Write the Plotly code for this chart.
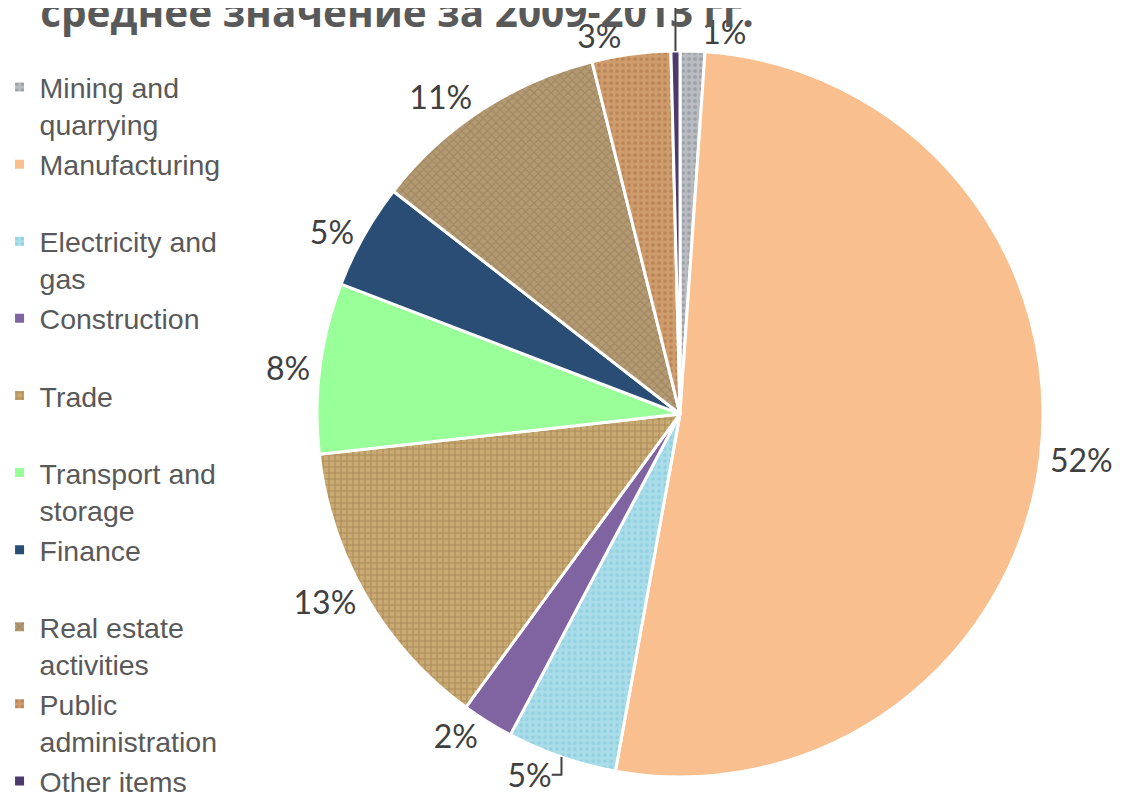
import plotly.graph_objects as go

categories = ["Mining and<br>quarrying", "Manufacturing<br> ", "Electricity and<br>gas",
              "Construction<br> ", "Trade<br> ", "Transport and<br>storage", "Finance<br> ",
              "Real estate<br>activities", "Public<br>administration", "Other items"]
values = [1.1, 51.8, 4.9, 2.3, 13.2, 7.6, 4.7, 10.6, 3.5, 0.4]

bg_colors = ["#b8bcc1", "#f9bf8f", "#a9dde9", "#8064a2", "#c9aa72",
             "#99ff99", "#2a4d76", "#b49a72", "#cf9c6c", "#4b3a6b"]
fg_colors = ["#7c838a", "#f9bf8f", "#7fc3d6", "#8064a2", "#8a6a3c",
             "#99ff99", "#2a4d76", "#86704e", "#a66c42", "#4b3a6b"]
shapes = [".", "", ".", "", "+", "", "", "x", ".", ""]

fig = go.Figure(go.Pie(
    labels=categories,
    values=values,
    sort=False,
    direction="clockwise",
    rotation=0,
    automargin=False,
    textposition="outside",
    texttemplate="%{percent:.0%}",
    textfont=dict(family="Lato", size=32, color="#404040"),
    marker=dict(colors=bg_colors,
                line=dict(color="white", width=3),
                pattern=dict(shape=shapes, fgcolor=fg_colors, bgcolor=bg_colors,
                             size=6, solidity=0.3, fillmode="overlay")),
    domain=dict(x=[0.2747, 0.9200], y=[0.0518, 0.9470]),
    hoverinfo="label+percent",
))

fig.update_layout(
    width=1125, height=811,
    margin=dict(l=0, r=0, t=0, b=0, autoexpand=False),
    paper_bgcolor="white", plot_bgcolor="white",
    title=dict(text="<b>среднее значение за 2009-2013 гг.</b>", xref="container", yref="container",
               x=0.3458, y=0.994, xanchor="center", yanchor="middle",
               font=dict(family="Open Sans", size=40.5, color="#595959")),
    showlegend=True,
    legend=dict(x=-0.0075, y=0.4747, xanchor="left", yanchor="middle", valign="top",
                font=dict(family="Liberation Sans", size=28.5, color="#595959"),
                itemwidth=30, tracegroupgap=0, maxheight=800),
)

fig.write_html("out.html")
